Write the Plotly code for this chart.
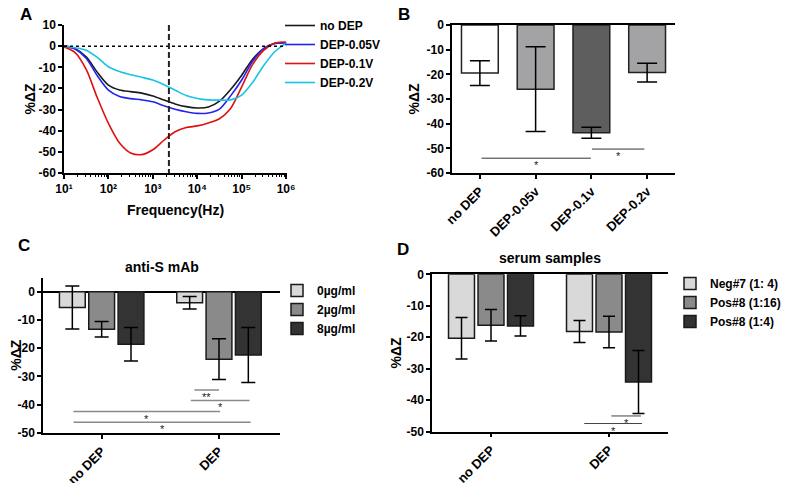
import plotly.graph_objects as go

# ---------------- Panel A data ----------------
freq_hz = [10, 17.8, 31.6, 56.2, 100, 178, 316, 562, 1000, 1778, 3162, 5623,
           10000, 17783, 31623, 56234, 100000, 177828, 316228, 562341, 1000000]
a_no_dep = [0.2, -1.2, -5, -12.3, -18.4, -20.7, -21.5, -22.2, -23.6, -25.5, -27.3,
            -28.6, -29.2, -28.8, -26, -20.5, -13.7, -6, -1, 1.4, 1.6]
a_dep_005 = [0.2, -1.3, -5.7, -14, -20.8, -23.8, -24.8, -25.4, -26.3, -28.2, -29.8,
             -31, -31.8, -31.6, -29.8, -23.5, -16, -7, -1, 1.3, 1.6]
a_dep_01 = [-0.3, -3, -11, -24.4, -36.5, -45.8, -50.5, -51.3, -49, -44.5, -40.5,
            -38.5, -37.7, -36.3, -34.3, -29.5, -19.2, -8.5, -1.8, 1.5, 2]
a_dep_02 = [0, -0.7, -1.9, -5.3, -9.7, -12, -13.5, -14.7, -16, -18.2, -20.8,
            -23.3, -24.7, -25.4, -25.5, -25.4, -23.1, -17, -9, -2.5, 1.5]
a_names = ["no DEP", "DEP-0.05V", "DEP-0.1V", "DEP-0.2V"]
a_marker_freq = 2300
a_x_tickvals = [10, 100, 1000, 10000, 100000, 1000000]
a_x_ticktext = ["10¹", "10²", "10³", "10⁴", "10⁵", "10⁶"]
a_y_ticks = [-60, -50, -40, -30, -20, -10, 0, 10]

# ---------------- Panel B data ----------------
b_cats = ["no DEP", "DEP-0.05v", "DEP-0.1v", "DEP-0.2v"]
b_vals = [-19.5, -26.0, -43.7, -19.3]
b_err = [5.0, 17.2, 2.2, 3.8]
b_y_ticks = [-60, -50, -40, -30, -20, -10, 0]
b_sig = [(0.03, 1.99, -54.0, "*"), (2.01, 2.95, -50.3, "*")]

# ---------------- Panel C data ----------------
cd_groups = ["no DEP", "DEP"]
c_names = ["0µg/ml", "2µg/ml", "8µg/ml"]
c_vals = [[-5.6, -3.9], [-13.3, -23.9], [-18.6, -22.4]]
c_err = [[7.6, 2.2], [2.75, 7.2], [5.9, 9.7]]
c_y_ticks = [-50, -40, -30, -20, -10, 0]
c_sig = [(0.79, 1.0, -34.8, "**"), (0.76, 1.26, -38.5, "*"),
         (-0.24, 1.01, -42.4, "*"), (-0.24, 1.27, -46.2, "*")]

# ---------------- Panel D data ----------------
d_names = ["Neg#7 (1: 4)", "Pos#8 (1:16)", "Pos#8 (1:4)"]
d_vals = [[-20.3, -18.2], [-16.2, -18.3], [-16.4, -34.2]]
d_err = [[6.6, 3.5], [5.0, 5.0], [3.2, 10.0]]
d_y_ticks = [-50, -40, -30, -20, -10, 0]
d_sig = [(1.02, 1.27, -45.0, "*"), (0.79, 1.28, -47.4, "*")]

# ---------------- styles ----------------
FONT = "Liberation Sans"
W, H = 790, 483
OFF = 8  # default page margin around the plot div
a_colors = ["#1a1a1a", "#2323f0", "#e01010", "#19c3e6"]
b_colors = ["#ffffff", "#a3a3a6", "#5e5e5e", "#a3a3a6"]
cd_colors = ["#d9d9d9", "#8a8a8a", "#333333"]


def px_x(p):
    return (p - OFF) / W


def px_y(p):
    return 1 - (p - OFF) / H


tickfont = dict(family=FONT, size=12, color="black", weight="bold")
rotfont = dict(family=FONT, size=13, color="black", weight="bold")
titlefont = dict(family=FONT, size=14, color="black", weight="bold")
legfont = dict(family=FONT, size=12, color="black", weight="bold")

fig = go.Figure()

# Panel A curves
for name, vals, col in zip(a_names, [a_no_dep, a_dep_005, a_dep_01, a_dep_02], a_colors):
    fig.add_trace(go.Scatter(x=freq_hz, y=vals, mode="lines", name=name,
                             line=dict(color=col, width=1.6, shape="spline", smoothing=0.8),
                             xaxis="x", yaxis="y", legend="legend"))
# dotted zero line and dashed marker line
fig.add_trace(go.Scatter(x=[freq_hz[0], freq_hz[-1]], y=[0, 0], mode="lines",
                         line=dict(color="black", width=1.5, dash="dot"),
                         showlegend=False, xaxis="x", yaxis="y", hoverinfo="skip"))
fig.add_trace(go.Scatter(x=[a_marker_freq, a_marker_freq], y=[max(a_y_ticks), min(a_y_ticks)],
                         mode="lines", line=dict(color="#222222", width=2, dash="6px,3px"),
                         showlegend=False, xaxis="x", yaxis="y", hoverinfo="skip"))

# Panel B bars
fig.add_trace(go.Bar(x=b_cats, y=b_vals, marker=dict(color=b_colors, line=dict(color="#222222", width=1.5)),
                     error_y=dict(type="data", array=b_err, color="black", thickness=1.5, width=10),
                     showlegend=False, xaxis="x2", yaxis="y2"))

# Panel C bars
for i, name in enumerate(c_names):
    fig.add_trace(go.Bar(x=cd_groups, y=c_vals[i], name=name,
                         marker=dict(color=cd_colors[i], line=dict(color="#1a1a1a", width=1.5)),
                         error_y=dict(type="data", array=c_err[i], color="black", thickness=1.5, width=7),
                         offsetgroup=str(i), xaxis="x3", yaxis="y3", legend="legend2"))

# Panel D bars
for i, name in enumerate(d_names):
    fig.add_trace(go.Bar(x=cd_groups, y=d_vals[i], name=name,
                         marker=dict(color=cd_colors[i], line=dict(color="#1a1a1a", width=1.5)),
                         error_y=dict(type="data", array=d_err[i], color="black", thickness=1.5, width=6),
                         offsetgroup=str(i), xaxis="x4", yaxis="y4", legend="legend3"))

shapes = []
annotations = []


def add_sig(sigs, xref, yref, color, lw):
    for x0, x1, y, txt in sigs:
        shapes.append(dict(type="line", xref=xref, yref=yref, x0=x0, x1=x1, y0=y, y1=y,
                           line=dict(color=color, width=lw)))
        annotations.append(dict(x=(x0 + x1) / 2, y=y, xref=xref, yref=yref, text=txt,
                                showarrow=False, yanchor="top", yshift=1,
                                font=dict(family=FONT, size=11, color="#222222")))


add_sig(b_sig, "x2", "y2", "#333333", 1)
add_sig(c_sig, "x3", "y3", "#8a8a8a", 1.5)
add_sig(d_sig, "x4", "y4", "#444444", 1)

# panel letters and titles
for letter, x, y in [("A", 26, 15), ("B", 404, 15), ("C", 24, 246), ("D", 403, 249)]:
    annotations.append(dict(x=px_x(x), y=px_y(y), xref="paper", yref="paper", text=letter,
                            showarrow=False, xanchor="center", yanchor="middle",
                            font=dict(family=FONT, size=17, color="black", weight="bold")))
for txt, x, y in [("anti-S mAb", 162, 267), ("serum samples", 550, 258)]:
    annotations.append(dict(x=px_x(x), y=px_y(y), xref="paper", yref="paper", text=txt,
                            showarrow=False, xanchor="center", yanchor="middle", font=titlefont))

axis_common = dict(showline=True, linecolor="black", linewidth=1.5, ticks="outside",
                   ticklen=4, tickwidth=1.5, tickcolor="black", showgrid=False,
                   zeroline=False, tickfont=tickfont, ticklabeloverflow="allow")


def ylab(vals):
    return dict(tickmode="array", tickvals=vals, ticktext=[str(v) for v in vals])


minor_log = [m * 10 ** k for k in range(1, 6) for m in range(2, 10)]

fig.update_layout(
    width=W, height=H, autosize=False,
    margin=dict(l=0, r=0, t=0, b=0, autoexpand=False),
    paper_bgcolor="white", plot_bgcolor="white",
    barmode="group", bargap=0.25, bargroupgap=0.12,
    xaxis=dict(**axis_common, domain=[px_x(64), px_x(287)], type="log", range=[1, 6.02],
               tickmode="array", tickvals=a_x_tickvals, ticktext=a_x_ticktext, anchor="y",
               minor=dict(tickmode="array", tickvals=minor_log, ticks="outside", ticklen=2,
                          tickwidth=1, tickcolor="black"),
               title=dict(text="Frequency(Hz)", font=titlefont, standoff=10)),
    yaxis=dict(**axis_common, domain=[px_y(173), px_y(25)], range=[-60, 10.05], anchor="x",
               **ylab(a_y_ticks), title=dict(text="%ΔZ", font=titlefont, standoff=0)),
    xaxis2=dict(**{**axis_common, "tickfont": rotfont}, domain=[px_x(452), px_x(675)],
                type="category", range=[-0.5, 3.5], anchor="y2", tickangle=-45, mirror=True),
    yaxis2=dict(**axis_common, domain=[px_y(173), px_y(25)], range=[-60, 0], anchor="x2",
                **ylab(b_y_ticks), title=dict(text="%ΔZ", font=titlefont, standoff=4)),
    xaxis3=dict(**{**axis_common, "tickfont": rotfont}, domain=[px_x(43), px_x(280)],
                type="category", range=[-0.5, 1.52], anchor="y3", tickangle=-45),
    yaxis3=dict(**{**axis_common, "zeroline": True}, zerolinecolor="black", zerolinewidth=1.5,
                domain=[px_y(433), px_y(277.5)], range=[-50, 5], anchor="x3",
                **ylab(c_y_ticks), title=dict(text="%ΔZ", font=titlefont, standoff=4)),
    xaxis4=dict(**{**axis_common, "tickfont": rotfont}, domain=[px_x(432), px_x(668)],
                type="category", range=[-0.5, 1.5], anchor="y4", tickangle=-45, mirror=True),
    yaxis4=dict(**axis_common, domain=[px_y(431.7), px_y(274.3)], range=[-50, 0], anchor="x4",
                **ylab(d_y_ticks), title=dict(text="%ΔZ", font=titlefont, standoff=2)),
    legend=dict(x=px_x(280), y=px_y(11), xanchor="left", yanchor="top",
                font=legfont, bgcolor="rgba(0,0,0,0)", tracegroupgap=0),
    legend2=dict(x=px_x(277), y=px_y(276), xanchor="left", yanchor="top",
                 font=legfont, bgcolor="rgba(0,0,0,0)"),
    legend3=dict(x=px_x(670), y=px_y(269), xanchor="left", yanchor="top",
                 font=legfont, bgcolor="rgba(0,0,0,0)"),
    shapes=shapes, annotations=annotations,
)

fig.write_html("out.html", config={"displayModeBar": False})
